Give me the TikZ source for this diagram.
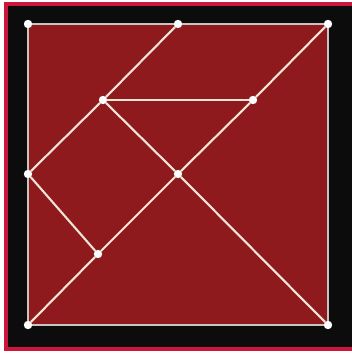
\documentclass[tikz,border=0pt]{standalone}
\usetikzlibrary{calc}
\definecolor{TGred}{RGB}{142,26,30}
\definecolor{TGframe}{RGB}{204,22,60}
\definecolor{TGblack}{RGB}{12,12,12}
\definecolor{TGline}{RGB}{242,228,214}
\definecolor{TGrim}{RGB}{200,196,192}
\tikzset{
  dot/.style={circle,fill=white,inner sep=0pt,minimum size=2.1mm},
  cut/.style={draw=TGline,line width=1.5pt,line cap=round},
  rim/.style={draw=TGrim,line width=1pt}
}

\begin{document}
\begin{tikzpicture}[x=0.25mm,y=-0.25mm]
  \useasboundingbox (0,0) rectangle (352,354);
  \clip (0,0) rectangle (352,354);
  \fill[TGblack] (0,0) rectangle (352,354);
  \fill[white] (0,0) rectangle (4,354);
  \fill[white] (0,351) rectangle (352,354);
  \fill[white] (0,0) rectangle (352,2.5);
  \fill[TGframe] (4,2.5) rectangle (7.5,351);
  \fill[TGframe] (4,2.5) rectangle (352,6);
  \fill[TGframe] (4,347) rectangle (352,351);
  \fill[TGred] (28,24) rectangle (328,325);
  % corners and cut points
  \node[dot] (tl) at (28,24) {};
  \node[dot] (tm) at (178,24) {};
  \node[dot] (tr) at (328,24) {};
  \node[dot] (pa) at (103,100) {};
  \node[dot] (pb) at (253,100) {};
  \node[dot] (lm) at (28,174) {};
  \node[dot] (ctr) at (178,174) {};
  \node[dot] (pc) at (98,254) {};
  \node[dot] (bl) at (28,325) {};
  \node[dot] (br) at (328,325) {};
  % outline
  \draw[rim] (tl) -- (tm); \draw[rim] (tm) -- (tr); \draw[rim] (tr) -- (br);
  \draw[rim] (br) -- (bl); \draw[rim] (bl) -- (lm); \draw[rim] (lm) -- (tl);
  % cuts
  \draw[cut] (tr) -- (pb); \draw[cut] (pb) -- (ctr); \draw[cut] (ctr) -- (pc);
  \draw[cut] (pc) -- (bl); \draw[cut] (ctr) -- (br);
  \draw[cut] (tm) -- (pa); \draw[cut] (pa) -- (lm);
  \draw[cut] (pa) -- (pb); \draw[cut] (pa) -- (ctr);
  \draw[cut] (lm) -- (pc);
\end{tikzpicture}
\end{document}
